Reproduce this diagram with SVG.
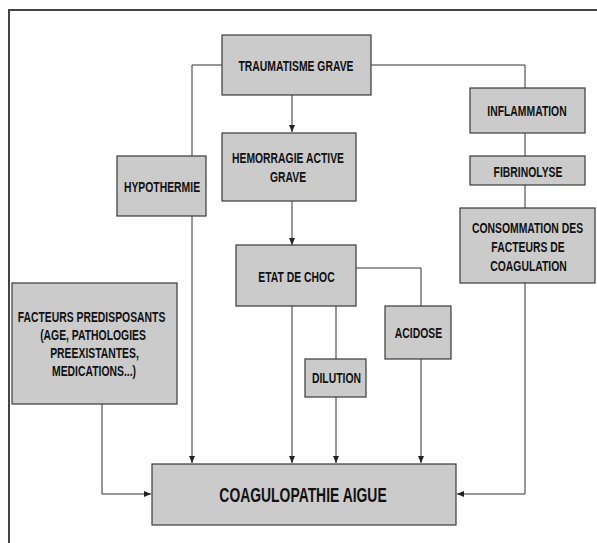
<svg xmlns="http://www.w3.org/2000/svg" width="597" height="543" viewBox="0 0 597 543">
<style>
.box{fill:#cbcbcb;stroke:#3a3a3a;stroke-width:1.2}
.t{font-family:"Liberation Sans",Arial,sans-serif;font-weight:bold;font-size:15.5px;fill:#111;text-anchor:middle}
.big{font-size:20px}
.c{fill:none;stroke:#333;stroke-width:1}
</style>
<defs>
<marker id="ah" markerWidth="7" markerHeight="6" refX="7" refY="3" orient="auto" markerUnits="userSpaceOnUse">
<path d="M0,0 L7,3 L0,6 Z" fill="#222"/>
</marker>
</defs>
<rect width="597" height="543" fill="#fff"/>
<g id="frame"><path d="M9,543 V10 H597" fill="none" stroke="#444" stroke-width="2"/></g>
<g id="connectors">
<path class="c" d="M222,65 H192 V156"/>
<path class="c" d="M192,216 V463" marker-end="url(#ah)"/>
<path class="c" d="M371,65 H525 V88"/>
<path class="c" d="M525,133 V156"/>
<path class="c" d="M525,185 V208"/>
<path class="c" d="M525,283 V494 H457" marker-end="url(#ah)"/>
<path class="c" d="M292,95 V132" marker-end="url(#ah)"/>
<path class="c" d="M292,201 V245" marker-end="url(#ah)"/>
<path class="c" d="M292,306 V463" marker-end="url(#ah)"/>
<path class="c" d="M356,268 H421 V306"/>
<path class="c" d="M421,359 V463" marker-end="url(#ah)"/>
<path class="c" d="M336,306 V359"/>
<path class="c" d="M336,397 V463" marker-end="url(#ah)"/>
<path class="c" d="M102,404 V494 H151" marker-end="url(#ah)"/>
</g>
<g id="traumatisme"><rect class="box" x="222" y="35" width="149" height="60"/><text class="t" transform="translate(296,71) scale(0.67,1)">TRAUMATISME GRAVE</text></g>
<g id="hypothermie"><rect class="box" x="117" y="156" width="89" height="60"/><text class="t" transform="translate(162,192) scale(0.67,1)">HYPOTHERMIE</text></g>
<g id="hemorragie"><rect class="box" x="222" y="133" width="134" height="68"/><text class="t" transform="translate(288,163) scale(0.67,1)">HEMORRAGIE ACTIVE</text><text class="t" transform="translate(288,182) scale(0.67,1)">GRAVE</text></g>
<g id="inflammation"><rect class="box" x="470" y="88" width="115" height="45"/><text class="t" transform="translate(527,116) scale(0.67,1)">INFLAMMATION</text></g>
<g id="fibrinolyse"><rect class="box" x="470" y="156" width="115" height="29"/><text class="t" transform="translate(528,176.5) scale(0.67,1)">FIBRINOLYSE</text></g>
<g id="consommation"><rect class="box" x="460" y="208" width="135" height="75"/><text class="t" transform="translate(527.5,232.5) scale(0.67,1)">CONSOMMATION DES</text><text class="t" transform="translate(528,251.5) scale(0.67,1)">FACTEURS DE</text><text class="t" transform="translate(528.5,270.5) scale(0.67,1)">COAGULATION</text></g>
<g id="etat"><rect class="box" x="236" y="245" width="120" height="61"/><text class="t" transform="translate(296.5,281.5) scale(0.67,1)">ETAT DE CHOC</text></g>
<g id="acidose"><rect class="box" x="385" y="306" width="66" height="53"/><text class="t" transform="translate(418.5,337.5) scale(0.67,1)">ACIDOSE</text></g>
<g id="dilution"><rect class="box" x="305" y="359" width="61" height="38"/><text class="t" transform="translate(336.5,383) scale(0.67,1)">DILUTION</text></g>
<g id="facteurs"><rect class="box" x="12" y="283" width="165" height="121"/><text class="t" transform="translate(91.5,321.5) scale(0.67,1)">FACTEURS PREDISPOSANTS</text><text class="t" transform="translate(93,339.5) scale(0.67,1)">(AGE, PATHOLOGIES</text><text class="t" transform="translate(94.5,357.5) scale(0.67,1)">PREEXISTANTES,</text><text class="t" transform="translate(94,376) scale(0.67,1)">MEDICATIONS...)</text></g>
<g id="coagulopathie"><rect class="box" x="152" y="464" width="304" height="61"/><text class="t big" transform="translate(303,502) scale(0.695,1)">COAGULOPATHIE AIGUE</text></g>
</svg>
